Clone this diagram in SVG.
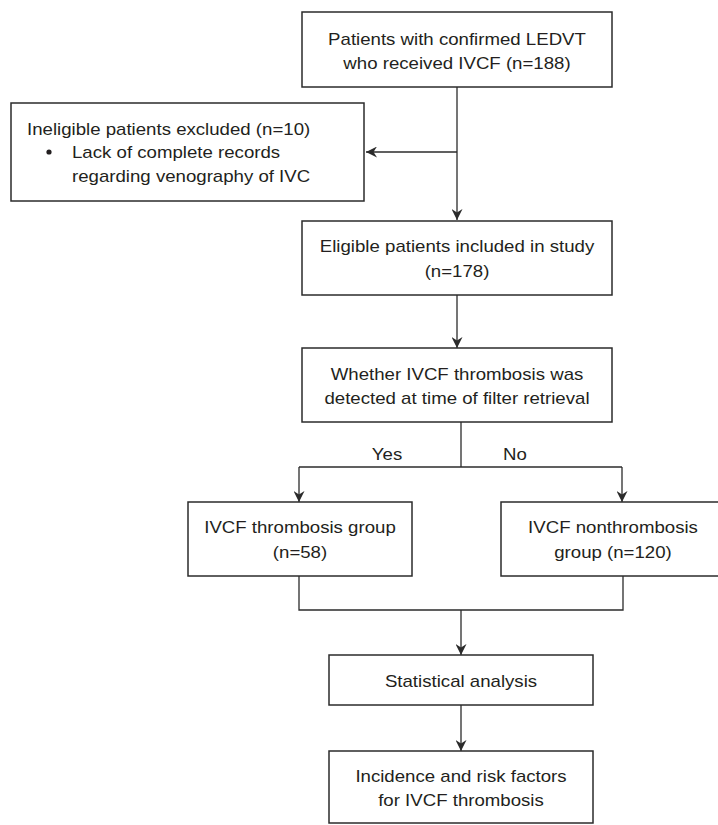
<svg xmlns="http://www.w3.org/2000/svg" width="718" height="825" viewBox="0 0 718 825">
<defs>
<style>
.box{fill:#fff;stroke:#2b2b2b;stroke-width:1.5}
.ln{fill:none;stroke:#2b2b2b;stroke-width:1.3}
text{font-family:"Liberation Sans",Arial,sans-serif;font-size:16px;fill:#231f20}
.c{text-anchor:middle}
</style>
<marker id="ah" markerWidth="12" markerHeight="11" refX="11" refY="5.5" orient="auto" markerUnits="userSpaceOnUse">
<path d="M0,0 L11,5.5 L0,11 L3.5,5.5 z" fill="#2b2b2b"/>
</marker>
</defs>
<rect width="718" height="825" fill="#fff"/>
<g id="connectors">
<line class="ln" x1="457" y1="87" x2="457" y2="220" marker-end="url(#ah)"/>
<line class="ln" x1="457" y1="152" x2="366" y2="152" marker-end="url(#ah)"/>
<line class="ln" x1="457" y1="295" x2="457" y2="348" marker-end="url(#ah)"/>
<line class="ln" x1="461" y1="422" x2="461" y2="467"/>
<polyline class="ln" points="299,467 622,467"/>
<line class="ln" x1="299" y1="467" x2="299" y2="502" marker-end="url(#ah)"/>
<line class="ln" x1="622" y1="467" x2="622" y2="502" marker-end="url(#ah)"/>
<polyline class="ln" points="299,576 299,610 623,610 623,576"/>
<line class="ln" x1="461" y1="610" x2="461" y2="655" marker-end="url(#ah)"/>
<line class="ln" x1="461" y1="705" x2="461" y2="751" marker-end="url(#ah)"/>
<text class="c" transform="translate(387,460) scale(1.165,1)">Yes</text>
<text class="c" transform="translate(515,460) scale(1.165,1)">No</text>
</g>
<g id="n_start">
<rect class="box" x="302" y="12" width="310" height="75"/>
<text class="c" transform="translate(457,45) scale(1.165,1)">Patients with confirmed LEDVT</text>
<text class="c" transform="translate(457,69) scale(1.165,1)">who received IVCF (n=188)</text>
</g>
<g id="n_excluded">
<rect class="box" x="11" y="103" width="353" height="98"/>
<text transform="translate(27,135) scale(1.165,1)">Ineligible patients excluded (n=10)</text>
<circle cx="49" cy="152" r="2.6" fill="#231f20"/>
<text transform="translate(72,158) scale(1.165,1)">Lack of complete records</text>
<text transform="translate(72,182) scale(1.165,1)">regarding venography of IVC</text>
</g>
<g id="n_eligible">
<rect class="box" x="302" y="221" width="310" height="74"/>
<text class="c" transform="translate(457,252) scale(1.165,1)">Eligible patients included in study</text>
<text class="c" transform="translate(457,277) scale(1.165,1)">(n=178)</text>
</g>
<g id="n_whether">
<rect class="box" x="302" y="348" width="310" height="74"/>
<text class="c" transform="translate(457,380) scale(1.165,1)">Whether IVCF thrombosis was</text>
<text class="c" transform="translate(457,404) scale(1.165,1)">detected at time of filter retrieval</text>
</g>
<g id="n_thrombosis">
<rect class="box" x="188" y="502" width="224" height="74"/>
<text class="c" transform="translate(300,533) scale(1.165,1)">IVCF thrombosis group</text>
<text class="c" transform="translate(300,558) scale(1.165,1)">(n=58)</text>
</g>
<g id="n_nonthrombosis">
<rect class="box" x="501" y="502" width="224" height="74"/>
<text class="c" transform="translate(613,533) scale(1.165,1)">IVCF nonthrombosis</text>
<text class="c" transform="translate(613,558) scale(1.165,1)">group (n=120)</text>
</g>
<g id="n_stats">
<rect class="box" x="329" y="655" width="264" height="50"/>
<text class="c" transform="translate(461,687) scale(1.165,1)">Statistical analysis</text>
</g>
<g id="n_outcome">
<rect class="box" x="329" y="751" width="264" height="72"/>
<text class="c" transform="translate(461,782) scale(1.165,1)">Incidence and risk factors</text>
<text class="c" transform="translate(461,806) scale(1.165,1)">for IVCF thrombosis</text>
</g>
</svg>
